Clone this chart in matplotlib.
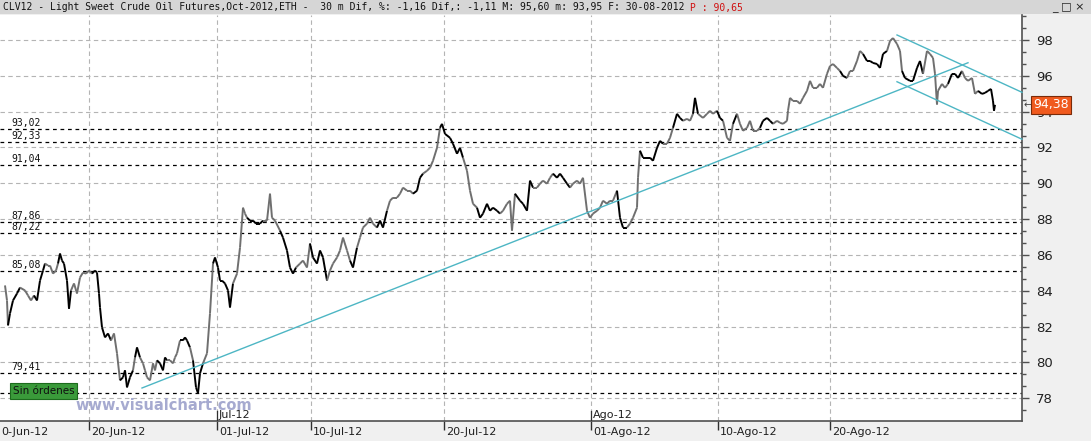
import numpy as np
import matplotlib
matplotlib.use("Agg")
import matplotlib.pyplot as plt
from matplotlib.collections import LineCollection
from matplotlib.patches import Rectangle
from matplotlib.ticker import MultipleLocator, FixedLocator
from matplotlib import font_manager, transforms

# ---------------- data ----------------
bar_index = [5, 7, 8, 10, 13, 17, 20, 25, 28, 31, 34, 37, 40, 43, 45, 48, 50, 53, 56, 58,
             60, 62, 64, 67, 69, 71, 74, 77, 80, 83, 86, 89, 92, 95, 97, 99, 100, 102, 105, 108,
             111, 114, 117, 120, 123, 125, 127, 130, 133, 135, 137, 140, 143, 145, 147, 150, 153, 155, 157, 160,
             163, 165, 167, 170, 173, 175, 177, 180, 183, 185, 187, 190, 193, 196, 198, 200, 203, 207, 210, 213,
             215, 218, 220, 222, 225, 228, 230, 233, 237, 240, 243, 245, 247, 250, 253, 256, 260, 263, 267, 270,
             272, 275, 280, 283, 287, 290, 293, 296, 300, 303, 307, 310, 313, 317, 320, 323, 327, 330, 333, 337,
             340, 343, 347, 350, 353, 357, 360, 363, 367, 370, 373, 377, 380, 383, 387, 390, 393, 397, 400, 403,
             407, 410, 413, 417, 420, 423, 427, 430, 433, 437, 440, 442, 445, 450, 453, 457, 460, 463, 467, 470,
             473, 477, 480, 483, 487, 490, 493, 497, 500, 503, 507, 510, 512, 515, 520, 523, 527, 530, 533, 537,
             540, 543, 547, 550, 553, 557, 560, 563, 567, 570, 573, 577, 580, 583, 587, 590, 593, 597, 600, 603,
             607, 610, 613, 617, 620, 623, 627, 630, 633, 637, 638, 640, 643, 647, 650, 653, 657, 660, 663, 667,
             670, 673, 677, 680, 683, 687, 690, 693, 695, 698, 703, 707, 710, 713, 717, 720, 723, 727, 730, 733,
             737, 740, 743, 747, 750, 753, 757, 760, 763, 767, 770, 773, 777, 780, 783, 787, 788, 790, 793, 797,
             800, 803, 807, 810, 813, 817, 820, 823, 827, 830, 833, 837, 840, 843, 847, 850, 853, 857, 860, 863,
             867, 870, 873, 877, 880, 883, 887, 890, 893, 897, 900, 902, 905, 910, 913, 917, 920, 923, 927, 930,
             933, 935, 937, 938, 942, 945, 948, 952, 955, 958, 962, 965, 968, 972, 975, 978, 982, 985, 988, 991,
             993, 994, 995]

price = [84.30, 83.46, 82.07, 82.74, 83.46, 83.85, 84.18, 84.02, 83.74, 83.46, 83.74, 83.46, 84.57, 85.13, 85.52, 85.41, 85.41, 84.96, 85.13, 85.52,
         86.08, 85.69, 85.52, 84.57, 83.00, 84.02, 84.41, 83.85, 84.74, 85.02, 84.96, 85.13, 84.96, 85.13, 85.02, 83.85, 83.07, 81.96, 81.40, 81.62,
         81.23, 81.62, 80.51, 79.00, 79.17, 79.56, 78.61, 79.17, 79.56, 80.28, 80.84, 80.28, 79.95, 79.56, 79.17, 79.00, 79.95, 79.56, 80.12, 79.95,
         79.56, 80.28, 80.12, 80.12, 79.95, 80.28, 80.51, 81.23, 81.23, 81.40, 81.23, 80.84, 80.12, 78.61, 78.28, 79.39, 79.95, 80.51, 82.74, 85.52,
         85.86, 85.30, 84.57, 84.57, 84.41, 84.02, 83.07, 84.41, 84.96, 86.41, 88.64, 88.31, 88.08, 87.92, 87.92, 87.75, 87.75, 87.92, 87.92, 89.42,
         88.08, 87.92, 87.36, 86.97, 86.25, 85.30, 84.96, 85.30, 85.52, 85.69, 85.30, 86.64, 85.86, 85.52, 86.25, 85.86, 84.57, 85.13, 85.52, 85.86,
         86.25, 86.97, 86.25, 85.69, 85.30, 86.41, 86.97, 87.53, 87.75, 88.08, 87.75, 87.53, 87.92, 87.53, 88.47, 89.03, 89.20, 89.20, 89.42, 89.76,
         89.59, 89.59, 89.42, 89.59, 90.31, 90.54, 90.70, 90.87, 91.26, 91.98, 93.10, 93.32, 92.76, 92.54, 92.21, 91.65, 91.98, 91.43, 90.70, 89.59,
         88.86, 88.64, 88.08, 88.31, 88.86, 88.47, 88.64, 88.47, 88.31, 88.47, 88.86, 89.03, 87.36, 89.42, 89.03, 88.86, 88.47, 90.15, 89.76, 89.76,
         89.98, 90.15, 89.98, 90.31, 90.54, 90.31, 90.54, 90.31, 89.98, 89.76, 89.98, 90.15, 89.98, 90.31, 88.47, 88.08, 88.31, 88.47, 88.64, 89.03,
         88.86, 89.03, 89.03, 89.59, 88.08, 87.53, 87.53, 87.75, 88.08, 88.64, 90.31, 91.82, 91.43, 91.43, 91.43, 91.26, 91.98, 92.37, 92.21, 92.21,
         92.54, 93.10, 93.88, 93.65, 93.49, 93.60, 93.49, 93.88, 94.77, 93.88, 93.65, 93.88, 94.05, 93.88, 94.05, 93.65, 93.49, 92.54, 92.37, 93.32,
         93.88, 93.32, 92.93, 93.10, 93.49, 92.93, 92.93, 93.10, 93.49, 93.65, 93.49, 93.32, 93.49, 93.38, 93.32, 93.49, 94.05, 94.77, 94.60, 94.60,
         94.44, 94.77, 95.16, 95.72, 95.33, 95.33, 95.55, 95.33, 96.11, 96.55, 96.66, 96.44, 96.27, 96.00, 95.88, 96.27, 96.27, 96.83, 97.39, 97.22,
         96.83, 96.83, 96.72, 96.66, 96.44, 97.22, 97.39, 97.94, 98.11, 97.78, 97.39, 96.27, 95.88, 95.72, 95.72, 96.44, 96.83, 96.11, 97.39, 97.22,
         97.00, 96.11, 94.40, 95.16, 95.55, 95.33, 95.55, 96.11, 96.11, 95.88, 96.27, 95.88, 95.72, 95.88, 94.99, 95.16, 94.99, 95.05, 95.16, 95.27,
         94.60, 94.05, 94.38]

# bar-index ranges drawn in black (the rest is gray)
dark_spans = [(8, 14), (15, 22), (33, 45), (58, 72), (93, 110), (120, 133), (135, 140), (157, 167),
              (180, 190), (193, 203), (213, 233), (247, 263), (280, 297), (310, 327), (350, 357),
              (377, 387), (413, 423), (440, 463), (477, 500), (517, 533), (553, 570), (617, 627),
              (640, 662), (673, 683), (693, 697), (717, 723), (733, 737), (760, 773), (840, 847),
              (863, 885), (903, 923), (947, 960), (977, 995)]

level_values = [93.02, 92.33, 91.04, 87.86, 87.22, 85.08, 79.41, 78.30]
level_labels = ["93,02", "92,33", "91,04", "87,86", "87,22", "85,08", "79,41", ""]

date_ticks = [89, 217, 311, 444, 591, 718, 830]
date_labels = ["20-Jun-12", "01-Jul-12", "10-Jul-12", "20-Jul-12", "01-Ago-12", "10-Ago-12", "20-Ago-12"]
month_ticks = [217, 591]
month_labels = ["Jul-12", "Ago-12"]

trend_up_x = [142, 968]
trend_up_y = [78.575, 96.73]
chan_up_x = [897, 1022]
chan_up_y = [98.28, 95.08]
chan_lo_x = [897, 1022]
chan_lo_y = [95.67, 92.46]

last_price = 94.38
title_main = "CLV12 - Light Sweet Crude Oil Futures,Oct-2012,ETH -  30 m Dif, %: -1,16 Dif,: -1,11 M: 95,60 m: 93,95 F: 30-08-2012"
title_red = "P : 90,65"

# ---------------- fonts ----------------
names = {f.name for f in font_manager.fontManager.ttflist}
NARROW = "Liberation Sans Narrow" if "Liberation Sans Narrow" in names else "DejaVu Sans"
MONO = "DejaVu Sans Mono"

W, H = 1091, 441
fig = plt.figure(figsize=(W / 100, H / 100), dpi=100, facecolor="#f0f0f0")
fig.patches.append(Rectangle((0, 1 - 14 / H), 1, 14 / H, transform=fig.transFigure,
                             facecolor="#d6d6d6", edgecolor="none", zorder=0))
t_main = fig.text(3 / W, 1 - 7.5 / H, title_main, family=MONO, size=7.0, va="center", ha="left",
                  color="#111111")
fig.canvas.draw()
bb = t_main.get_window_extent(renderer=fig.canvas.get_renderer())
fig.text((bb.x1 + 6) / W, 1 - 7.5 / H, title_red, family=MONO, size=7.0, va="center", ha="left",
         color="#d01010")
fig.text(1052 / W, 1 - 7.5 / H, "_ □ ×", family="DejaVu Sans", size=8, va="center", ha="left", color="#202020")

ax = fig.add_axes([0, 20 / H, 1022 / W, 406 / H])
ax.set_facecolor("white")
ax.set_xlim(0, 1022)
ax.set_ylim(76.733, 99.395)
for s in ("left", "top"):
    ax.spines[s].set_visible(False)
for s in ("right", "bottom"):
    ax.spines[s].set_color("#505050")
    ax.spines[s].set_linewidth(1.2)

# grid
for v in range(78, 99, 2):
    ax.axhline(v, color="#b4b4b4", lw=0.8, ls=(0, (4, 3)), zorder=1)
for xv in date_ticks:
    ax.axvline(xv, color="#b4b4b4", lw=0.8, ls=(0, (4, 3)), zorder=1)

# support / resistance levels
for v, lab in zip(level_values, level_labels):
    ax.axhline(v, color="black", lw=0.9, ls=(0, (3, 3)), zorder=2)
    if lab:
        ax.text(11, v, lab, family=MONO, size=7, va="bottom", ha="left", color="#111111", zorder=3,
                transform=ax.transData + transforms.ScaledTranslation(0, 1 / 100, fig.dpi_scale_trans))

# price line (black / gray sessions)
x = np.array(bar_index, dtype=float)
y = np.array(price, dtype=float)
segs = np.stack([np.column_stack([x[:-1], y[:-1]]), np.column_stack([x[1:], y[1:]])], axis=1)
mid = (x[:-1] + x[1:]) / 2
cols = []
for m in mid:
    dark = any(a <= m <= b for a, b in dark_spans)
    cols.append("#000000" if dark else "#6f6f6f")
lc = LineCollection(segs, colors=cols, linewidths=1.4, zorder=4, capstyle="butt")
ax.add_collection(lc)

# trend lines
tl_col = "#4db6c4"
ax.plot(trend_up_x, trend_up_y, color=tl_col, lw=1.0, zorder=5)
ax.plot(chan_up_x, chan_up_y, color=tl_col, lw=1.0, zorder=5, clip_on=False)
ax.plot(chan_lo_x, chan_lo_y, color=tl_col, lw=1.0, zorder=5, clip_on=False)

# right axis
ax.yaxis.tick_right()
ax.yaxis.set_major_locator(FixedLocator(list(range(78, 99, 2))))
ax.yaxis.set_minor_locator(MultipleLocator(2 / 3))
ax.set_yticklabels([str(v) for v in range(78, 99, 2)])
ax.tick_params(axis="y", which="major", direction="out", length=5, width=1, color="#505050",
               labelsize=9.5, pad=5, labelcolor="#202020")
ax.tick_params(axis="y", which="minor", direction="out", length=3, width=1, color="#505050")
for lbl in ax.get_yticklabels():
    lbl.set_family(NARROW)

# bottom axis
ax.set_xticks(date_ticks)
ax.set_xticklabels([""] * len(date_ticks))
ax.tick_params(axis="x", which="major", direction="out", length=6.5, width=1, color="#303030")
xt = ax.get_xaxis_transform()
off = transforms.ScaledTranslation(0, -6 / 100, fig.dpi_scale_trans)
for pos, lab in zip(date_ticks, date_labels):
    ax.text(pos + 2, 0, lab, transform=xt + off, va="top", ha="left", size=8, family=NARROW,
            color="#202020", clip_on=False)
ax.text(1, 0, "0-Jun-12", transform=xt + off, va="top", ha="left", size=8, family=NARROW,
        color="#202020", clip_on=False)
for pos, lab in zip(month_ticks, month_labels):
    ax.plot([pos, pos], [0, 10 / 406], transform=xt, color="#303030", lw=0.9, zorder=6)
    ax.text(pos + 2, 1 / 406, lab, transform=xt, va="bottom", ha="left", size=8, family=NARROW,
            color="#202020", zorder=6)

# watermark and badge
ax.text(75 / 1022, 15 / 406, "www.visualchart.com", transform=ax.transAxes, va="center", ha="left",
        size=10.5, weight="bold", color="#a6aad0", family="DejaVu Sans", zorder=7)
ax.text(13 / 1022, 30 / 406, "Sin órdenes", transform=ax.transAxes, va="center", ha="left",
        size=7.5, color="#101010", family="DejaVu Sans", zorder=8,
        bbox=dict(boxstyle="square,pad=0.25", facecolor="#3a9a3a", edgecolor="#1d6b1d", lw=0.8))

# last price tag
yt = ax.get_yaxis_transform()
ax.text(1.0015, last_price, "←", transform=yt, va="center", ha="left", size=7, color="#404040",
        clip_on=False, zorder=8)
ax.text(1.011, last_price, "94,38", transform=yt, va="center", ha="left", size=9, family=NARROW,
        color="white", clip_on=False, zorder=8,
        bbox=dict(boxstyle="square,pad=0.2", facecolor="#f05a1e", edgecolor="#7a2a08", lw=0.8))

fig.savefig("out.png", dpi=100, facecolor=fig.get_facecolor())
